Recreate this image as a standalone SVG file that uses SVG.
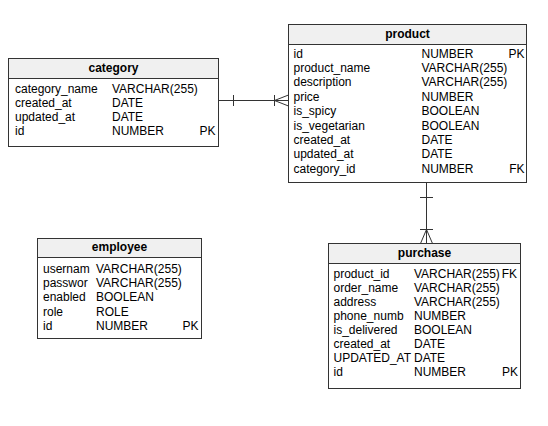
<svg xmlns="http://www.w3.org/2000/svg" width="548" height="426" viewBox="0 0 548 426">
<style>
.box{fill:#ffffff;stroke:#333333;stroke-width:1}
.hdr{fill:#f0f0f0;stroke:#333333;stroke-width:1}
text{font-family:"Liberation Sans",Arial,sans-serif;font-size:12px;fill:#000000}
.t{font-weight:bold;text-anchor:middle}
.k{text-anchor:end}
.c{fill:none;stroke:#333333;stroke-width:1}
</style>
<rect width="548" height="426" fill="#ffffff"/>
<g id="connectors">
<g id="category-product">
<path class="c" d="M218.5 100.5H288.5"/>
<path class="c" d="M233.5 95V106"/>
<path class="c" d="M274.5 95V106"/>
<path class="c" d="M288.5 95L274.5 100.5L288.5 106"/>
</g>
<g id="product-purchase">
<path class="c" d="M426.5 182.5V243.5"/>
<path class="c" d="M420 197.5H433"/>
<path class="c" d="M420 229.5H433"/>
<path class="c" d="M420.5 243.5L426.5 229.5L432.5 243.5"/>
</g>
</g>
<g id="category">
<rect class="box" x="8.5" y="58.5" width="210" height="88"/>
<rect class="hdr" x="8.5" y="58.5" width="210" height="20"/>
<text class="t" x="113.5" y="71.5">category</text>
<text x="15" y="92.5">category_name</text><text x="112" y="92.5">VARCHAR(255)</text>
<text x="15" y="106.5">created_at</text><text x="112" y="106.5">DATE</text>
<text x="15" y="120.5">updated_at</text><text x="112" y="120.5">DATE</text>
<text x="15" y="134.5">id</text><text x="112" y="134.5">NUMBER</text><text class="k" x="215.5" y="134.5">PK</text>
</g>
<g id="product">
<rect class="box" x="288.5" y="24.5" width="238" height="158"/>
<rect class="hdr" x="288.5" y="24.5" width="238" height="20"/>
<text class="t" x="407.5" y="37.5">product</text>
<text x="293.5" y="57.5">id</text><text x="421.5" y="57.5">NUMBER</text><text class="k" x="524.5" y="57.5">PK</text>
<text x="293.5" y="71.9">product_name</text><text x="421.5" y="71.9">VARCHAR(255)</text>
<text x="293.5" y="86.3">description</text><text x="421.5" y="86.3">VARCHAR(255)</text>
<text x="293.5" y="100.7">price</text><text x="421.5" y="100.7">NUMBER</text>
<text x="293.5" y="115.1">is_spicy</text><text x="421.5" y="115.1">BOOLEAN</text>
<text x="293.5" y="129.5">is_vegetarian</text><text x="421.5" y="129.5">BOOLEAN</text>
<text x="293.5" y="143.9">created_at</text><text x="421.5" y="143.9">DATE</text>
<text x="293.5" y="158.3">updated_at</text><text x="421.5" y="158.3">DATE</text>
<text x="293.5" y="172.7">category_id</text><text x="421.5" y="172.7">NUMBER</text><text class="k" x="524.5" y="172.7">FK</text>
</g>
<g id="employee">
<rect class="box" x="37.5" y="238.5" width="164" height="100"/>
<rect class="hdr" x="37.5" y="238.5" width="164" height="19"/>
<text class="t" x="119.5" y="251">employee</text>
<text x="43" y="272.7">usernam</text><text x="96" y="272.7">VARCHAR(255)</text>
<text x="43" y="287">passwor</text><text x="96" y="287">VARCHAR(255)</text>
<text x="43" y="301.3">enabled</text><text x="96" y="301.3">BOOLEAN</text>
<text x="43" y="315.6">role</text><text x="96" y="315.6">ROLE</text>
<text x="43" y="330">id</text><text x="96" y="330">NUMBER</text><text class="k" x="198.5" y="330">PK</text>
</g>
<g id="purchase">
<rect class="box" x="328.5" y="243.5" width="192" height="145"/>
<rect class="hdr" x="328.5" y="243.5" width="192" height="20"/>
<text class="t" x="424.5" y="257">purchase</text>
<text x="333.5" y="277.7">product_id</text><text x="414" y="277.7">VARCHAR(255)</text><text class="k" x="517" y="277.7">FK</text>
<text x="333.5" y="291.7">order_name</text><text x="414" y="291.7">VARCHAR(255)</text>
<text x="333.5" y="305.8">address</text><text x="414" y="305.8">VARCHAR(255)</text>
<text x="333.5" y="319.8">phone_numb</text><text x="414" y="319.8">NUMBER</text>
<text x="333.5" y="333.9">is_delivered</text><text x="414" y="333.9">BOOLEAN</text>
<text x="333.5" y="347.9">created_at</text><text x="414" y="347.9">DATE</text>
<text x="333.5" y="362">UPDATED_AT</text><text x="414" y="362">DATE</text>
<text x="333.5" y="376">id</text><text x="414" y="376">NUMBER</text><text class="k" x="518" y="376">PK</text>
</g>
</svg>
